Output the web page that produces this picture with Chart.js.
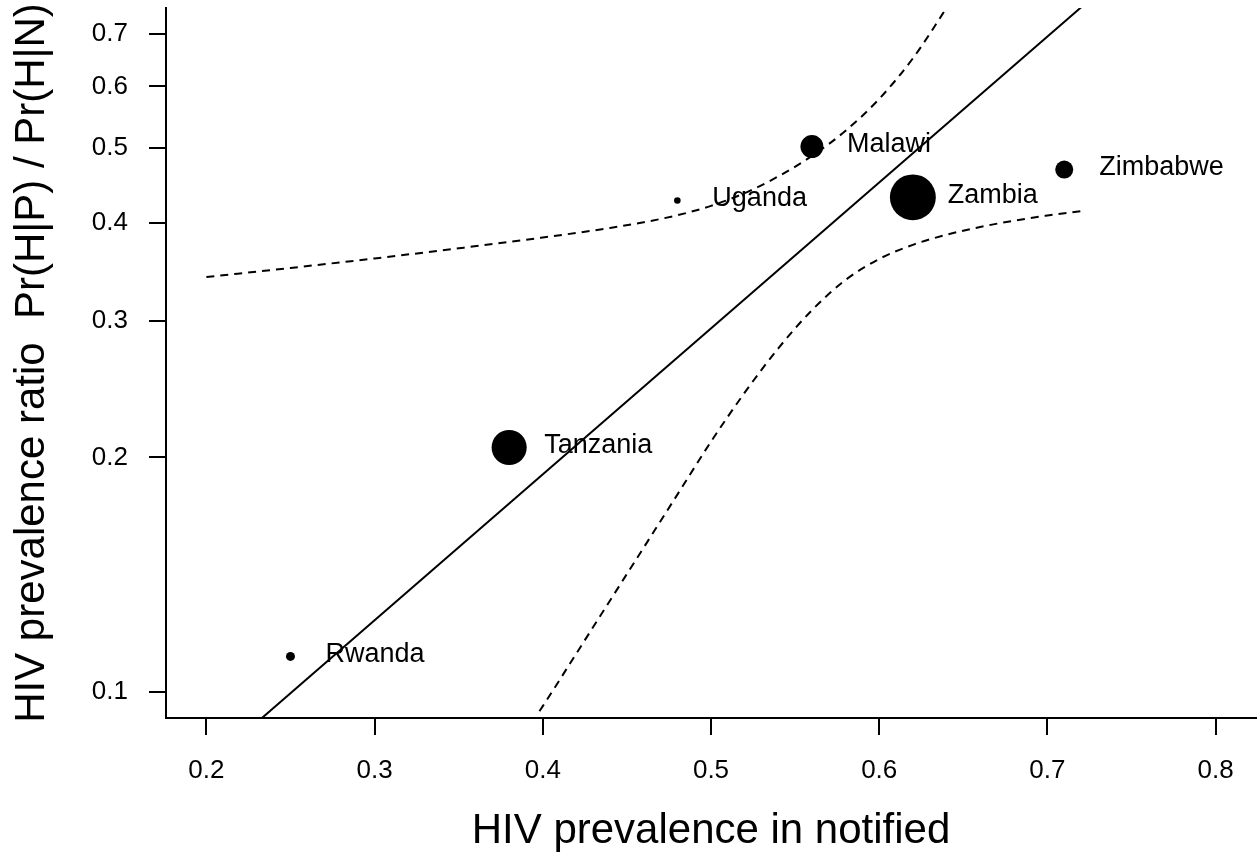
<!DOCTYPE html>
<html lang="en">
<head>
  <meta charset="UTF-8">
  <title>HIV prevalence ratio</title>
  <script src="https://cdn.jsdelivr.net/npm/chart.js"></script>
  <style>
    body { margin: 0; background: #fff; }
  </style>
</head>
<body>
  <canvas id="myChart" width="1259" height="858"></canvas>

<script>
// data
const countries = ['Rwanda', 'Tanzania', 'Uganda', 'Malawi', 'Zambia', 'Zimbabwe'];
const prevNotified = [0.25, 0.38, 0.48, 0.56, 0.62, 0.71];
const prevRatio = [0.111, 0.206, 0.428, 0.502, 0.432, 0.469];
const weight = [1.0, 3.9, 0.73, 2.55, 5.1, 2.0]; // relative symbol size

// fitted line (straight on the log scale)
const fitX = [0.20, 0.80];
const fitY = [0.0802, 1.071];

// dashed band
const upperX = [0.20, 0.25, 0.30, 0.35, 0.40, 0.44, 0.46, 0.48, 0.50, 0.52, 0.54, 0.56, 0.58, 0.60, 0.62, 0.64, 0.65];
const upperY = [0.3412, 0.3505, 0.3605, 0.3715, 0.3835, 0.3946, 0.4013, 0.4097, 0.4212, 0.4374, 0.4596, 0.4883, 0.5261, 0.5782, 0.6518, 0.7570, 0.8205];
const lowerX = [0.398, 0.40, 0.42, 0.44, 0.46, 0.48, 0.50, 0.52, 0.54, 0.56, 0.58, 0.60, 0.62, 0.64, 0.66, 0.68, 0.70, 0.72];
const lowerY = [0.0944, 0.0958, 0.1120, 0.1310, 0.1532, 0.1792, 0.2096, 0.2423, 0.2763, 0.3093, 0.3383, 0.3600, 0.3753, 0.3867, 0.3957, 0.4031, 0.4093, 0.4146];

const xTicks = [0.2, 0.3, 0.4, 0.5, 0.6, 0.7, 0.8];
const yTicks = [0.1, 0.2, 0.3, 0.4, 0.5, 0.6, 0.7];

const FONT = "'Liberation Sans', Arial, Helvetica, sans-serif";

function pairs(xs, ys) {
  return xs.map((x, i) => ({ x: x, y: ys[i] }));
}

// no extra room for tick labels at the ends of the axes
function clearPad(s) {
  s.paddingLeft = 0; s.paddingRight = 0; s.paddingTop = 0; s.paddingBottom = 0;
}

// country names to the right of each dot
const countryLabels = {
  id: 'countryLabels',
  afterDatasetsDraw(chart) {
    const ctx = chart.ctx;
    const xs = chart.scales.x, ys = chart.scales.y;
    ctx.save();
    ctx.font = '27px ' + FONT;
    ctx.fillStyle = '#000';
    ctx.textAlign = 'left';
    ctx.textBaseline = 'middle';
    countries.forEach((name, i) => {
      ctx.fillText(name, xs.getPixelForValue(prevNotified[i]) + 35, ys.getPixelForValue(prevRatio[i]) - 2);
    });
    ctx.restore();
  }
};

const data = {
  datasets: [
    {
      label: 'countries',
      data: pairs(prevNotified, prevRatio),
      backgroundColor: '#000',
      borderWidth: 0,
      pointRadius: weight.map(w => 4.5 * w),
      pointHoverRadius: weight.map(w => 4.5 * w),
      showLine: false
    },
    {
      label: 'fit',
      data: pairs(fitX, fitY),
      borderColor: '#000',
      borderWidth: 2,
      pointRadius: 0,
      showLine: true
    },
    {
      label: 'upper',
      data: pairs(upperX, upperY),
      borderColor: '#000',
      borderWidth: 2,
      borderDash: [8, 6],
      pointRadius: 0,
      showLine: true,
      cubicInterpolationMode: 'monotone'
    },
    {
      label: 'lower',
      data: pairs(lowerX, lowerY),
      borderColor: '#000',
      borderWidth: 2,
      borderDash: [8, 6],
      pointRadius: 0,
      showLine: true,
      cubicInterpolationMode: 'monotone'
    }
  ]
};

const config = {
  type: 'scatter',
  data,
  options: {
    responsive: false,
    animation: false,
    layout: { autoPadding: false, padding: { top: 8, right: 3, left: 0, bottom: 0 } },
    plugins: {
      legend: { display: false },
      tooltip: { enabled: false }
    },
    scales: {
      x: {
        type: 'linear',
        min: 0.176,
        max: 0.824,
        afterBuildTicks: s => { s.ticks = xTicks.map(v => ({ value: v })); },
        afterFit: s => { s.height = 140; clearPad(s); },
        ticks: {
          autoSkip: false,
          maxRotation: 0,
          padding: 20,
          color: '#000',
          font: { family: FONT, size: 26 },
          callback: v => v.toFixed(1)
        },
        grid: { drawOnChartArea: false, tickLength: 17, color: '#000', lineWidth: 2 },
        border: { color: '#000', width: 2 },
        title: {
          display: true,
          text: 'HIV prevalence in notified',
          color: '#000',
          font: { family: FONT, size: 42, lineHeight: 1 },
          padding: { bottom: 6 }
        }
      },
      y: {
        type: 'logarithmic',
        min: 0.0925,
        max: 0.7566,
        afterBuildTicks: s => { s.ticks = yTicks.map(v => ({ value: v })); },
        afterFit: s => { s.width = 166; clearPad(s); },
        ticks: {
          autoSkip: false,
          padding: 21,
          color: '#000',
          font: { family: FONT, size: 26 },
          callback: v => Number(v).toFixed(1)
        },
        grid: { drawOnChartArea: false, tickLength: 17, color: '#000', lineWidth: 2 },
        border: { color: '#000', width: 2 },
        title: {
          display: true,
          text: 'HIV prevalence ratio  Pr(H|P) / Pr(H|N)',
          color: '#000',
          font: { family: FONT, size: 42, lineHeight: 1 },
          padding: { top: 11 }
        }
      }
    }
  },
  plugins: [countryLabels]
};

const myChart = new Chart(document.getElementById('myChart'), config);
</script>
</body>
</html>
